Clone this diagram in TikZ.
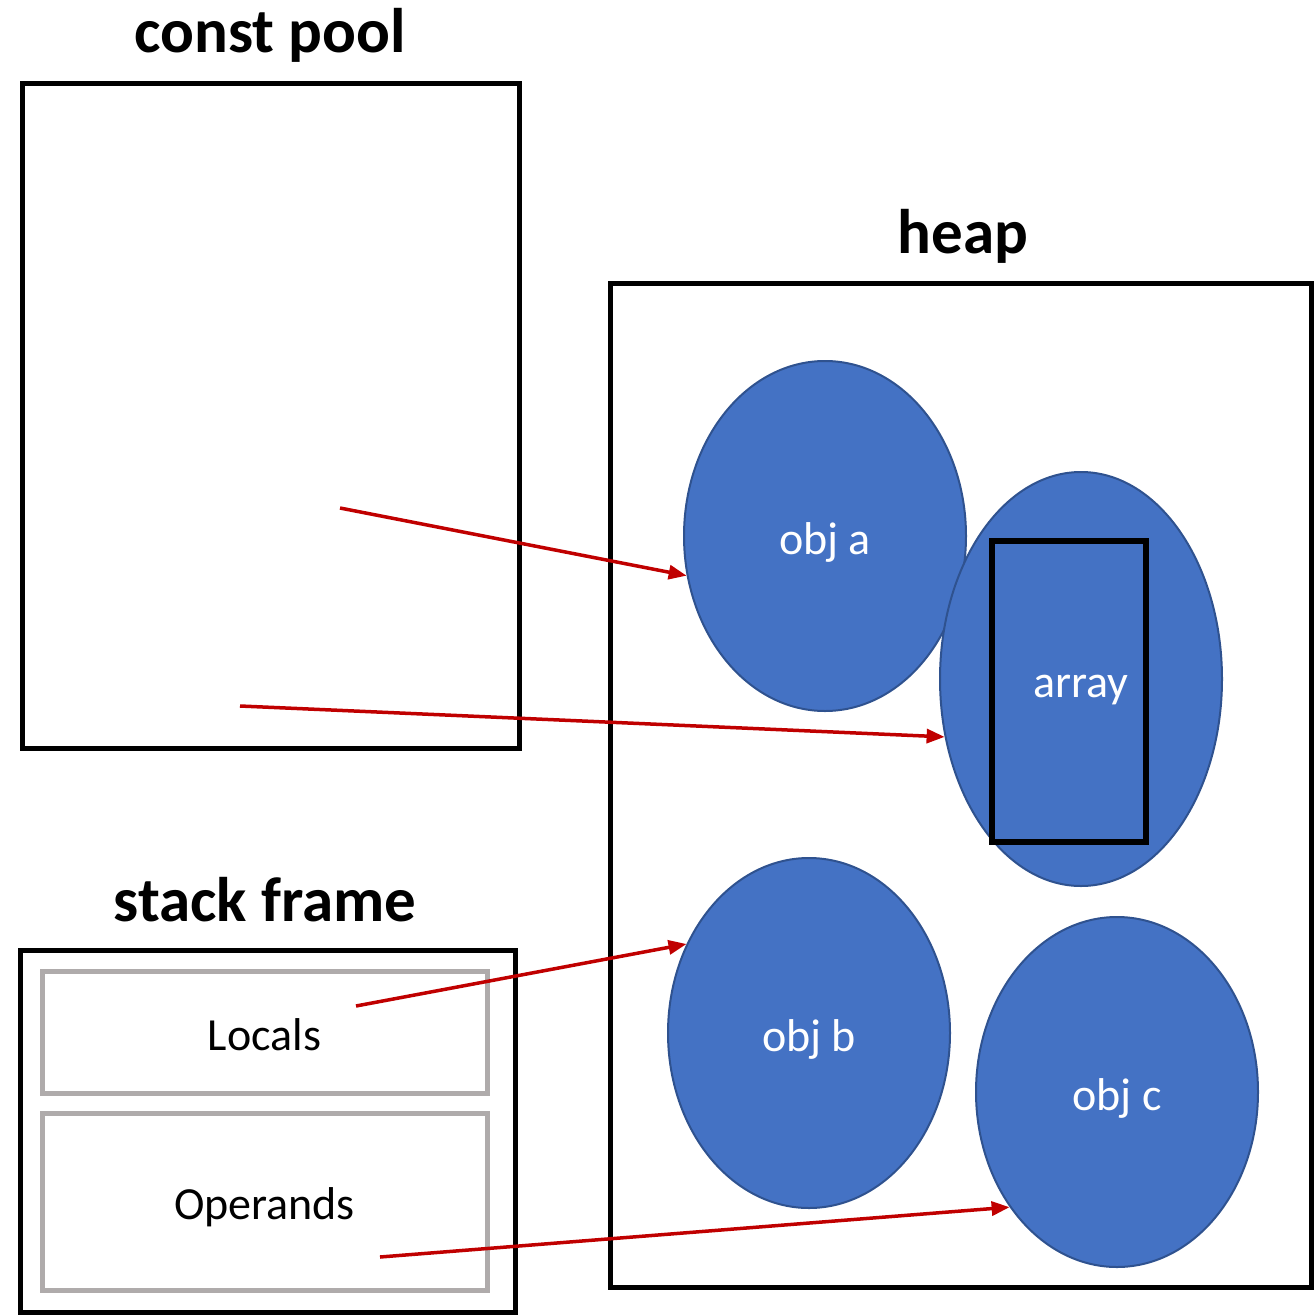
\documentclass[tikz,border=0pt]{standalone}
\usepackage{fontspec}
\setmainfont{Carlito}
\usetikzlibrary{shapes.geometric,arrows.meta}
\definecolor{objfill}{HTML}{4472C4}
\definecolor{objline}{HTML}{2F528F}
\definecolor{slotgray}{HTML}{AFABAB}
\definecolor{refred}{HTML}{C00000}
\tikzset{
  area/.style={draw=black,line width=5pt,rectangle,inner sep=0pt},
  slot/.style={draw=slotgray,line width=5pt,rectangle,inner sep=0pt,minimum width=445pt,
               text height=36pt,text depth=0pt,font=\fontsize{46}{46}\selectfont},
  title/.style={anchor=base,inner sep=0pt,font=\bfseries\fontsize{63}{63}\selectfont},
  obj/.style={ellipse,draw=objline,line width=2pt,fill=objfill,inner sep=0pt,
              minimum width=282pt,text=white,text height=36pt,text depth=0pt,
              font=\fontsize{46}{46}\selectfont},
  ref/.style={draw=refred,line width=3.5pt,-{Triangle[length=18pt,width=14pt]}}
}
\begin{document}
\begin{tikzpicture}[x=1pt,y=-1pt]
\useasboundingbox (0,0) rectangle (1314,1316);
% constant pool
\node[area,minimum width=497pt,minimum height=664pt] (pool) at (270.5,416) {};
\node[title] (pooltitle) at (270,53) {const pool};
% heap
\node[area,minimum width=701pt,minimum height=1004pt] (heap) at (961,785.5) {};
\node[title] (heaptitle) at (963,253) {heap};
% stack frame
\node[area,minimum width=495pt,minimum height=362pt] (frame) at (267.5,1131) {};
\node[title] (frametitle) at (265,921) {stack frame};
\node[slot,minimum height=122pt] (locals) at (264.5,1032) {Locals};
\node[slot,minimum height=177pt] (operands) at (264.5,1201.5) {Operands};
% heap objects
\node[obj,minimum height=350pt] (obja) at (825,536) {obj a};
\node[obj,minimum height=414pt] (arr) at (1081,679) {array};
\node[draw=black,line width=6pt,rectangle,inner sep=0pt,minimum width=154pt,minimum height=301pt] (arrbox) at (1069,691.5) {};
\node[obj,minimum height=350pt] (objb) at (809,1033) {obj b};
\node[obj,minimum height=350pt] (objc) at (1117,1092) {obj c};
% reference sources
\coordinate (p1) at (340,508);
\coordinate (p2) at (240,706);
\coordinate (s1) at (356,1006);
\coordinate (s2) at (380,1257);
% references
\draw[ref] (p1) -- (obja.196);
\draw[ref] (p2) -- (arr.203);
\draw[ref] (s1) -- (objb.144);
\draw[ref] (s2) -- (objc.227);
\end{tikzpicture}
\end{document}
